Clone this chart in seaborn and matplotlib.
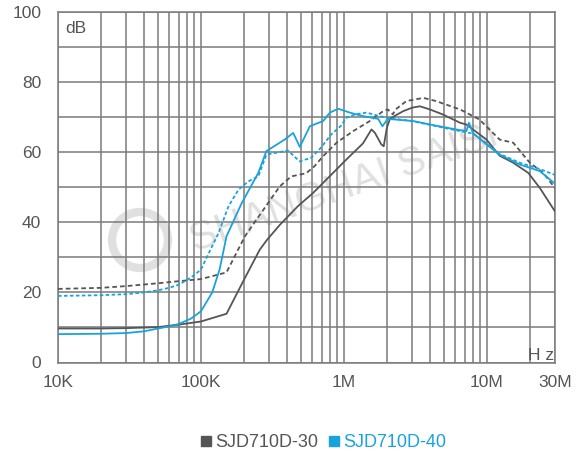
import matplotlib
matplotlib.use("Agg")
import matplotlib.pyplot as plt
import matplotlib.ticker as mticker
from matplotlib.lines import Line2D
from matplotlib.patches import Circle
import numpy as np
import pandas as pd
import seaborn as sns

# ---------------- data ----------------
series_names = ["SJD710D-30", "SJD710D-40"]
x_tick_values = [1e4, 1e5, 1e6, 1e7, 3e7]
x_tick_labels = ["10K", "100K", "1M", "10M", "30M"]
y_tick_values = [0, 20, 40, 60, 80, 100]

# SJD710D-30, solid
g_solid_f = [1e4, 2e4, 3e4, 5e4, 7e4, 1e5, 1.51e5, 2.0e5, 2.58e5, 2.9e5, 3.57e5,
             4.77e5, 6.1e5, 1.04e6, 1.36e6, 1.56e6, 1.65e6, 1.83e6, 1.9e6, 2.0e6,
             2.1e6, 2.3e6, 2.6e6, 3.0e6, 3.4e6, 4.0e6, 4.9e6, 6.5e6, 7.2e6, 9.95e6,
             1.23e7, 1.53e7, 1.95e7, 2.35e7, 3.0e7]
g_solid_db = [9.7, 9.7, 9.8, 10.1, 10.8, 11.7, 13.9, 23.6, 32.2, 35.0, 39.3,
              44.6, 48.4, 57.9, 62.5, 66.5, 65.5, 62.2, 61.7, 67.0,
              69.5, 70.5, 71.7, 72.7, 73.1, 72.2, 70.8, 68.4, 67.9, 63.6,
              59.0, 57.0, 54.1, 49.8, 43.1]

# SJD710D-30, dashed
g_dash_f = [1e4, 2e4, 3e4, 5e4, 7e4, 1e5, 1.51e5, 2.03e5, 2.95e5, 3.57e5, 4.29e5,
            5.45e5, 6.23e5, 7.17e5, 8.89e5, 1.16e6, 1.52e6, 1.88e6, 2.03e6, 2.2e6,
            2.3e6, 2.74e6, 3.6e6, 4.4e6, 6.5e6, 8.9e6, 1.23e7, 1.53e7, 2.0e7,
            2.48e7, 3.0e7]
g_dash_db = [21.0, 21.3, 21.8, 22.6, 23.2, 23.8, 25.7, 36.0, 45.5, 50.3, 53.1,
             54.0, 56.0, 58.9, 62.7, 66.0, 68.9, 71.7, 72.2, 70.8,
             72.2, 74.6, 75.5, 74.6, 72.2, 69.3, 63.6, 62.7, 57.0,
             54.1, 49.8]

# SJD710D-40, solid
b_solid_f = [1e4, 2e4, 3e4, 4e4, 5e4, 6e4, 7e4, 8.5e4, 1e5, 1.2e5, 1.35e5, 1.51e5,
             1.93e5, 2.52e5, 2.87e5, 3.85e5, 4.42e5, 4.92e5, 5.78e5, 7.17e5, 7.98e5,
             9.13e5, 1.1e6, 1.36e6, 1.74e6, 1.86e6, 2.03e6, 3.05e6, 4.0e6, 6.1e6,
             7.2e6, 7.5e6, 8.0e6, 9.95e6, 1.23e7, 1.7e7, 2.35e7, 3.0e7]
b_solid_db = [8.1, 8.2, 8.4, 8.9, 9.7, 10.3, 11.0, 12.5, 14.6, 20.0, 26.5, 36.0,
              45.5, 54.1, 60.3, 63.6, 65.5, 61.5, 67.4, 68.9, 71.3,
              72.4, 71.3, 70.3, 69.5, 67.4, 69.5, 68.9, 67.9, 66.5,
              66.0, 68.4, 65.5, 62.2, 59.3, 56.5, 54.6, 51.0]

# SJD710D-40, dashed
b_dash_f = [1e4, 2e4, 3e4, 4e4, 5e4, 6e4, 7e4, 8.5e4, 1e5, 1.16e5, 1.33e5, 1.56e5,
            1.83e5, 2.15e5, 2.52e5, 2.87e5, 4.06e5, 4.9e5, 5.9e5, 6.92e5, 8.12e5,
            9.53e5, 1.04e6, 1.2e6, 1.44e6, 1.7e6, 2.0e6, 3.0e6, 4.0e6, 6.0e6, 8.0e6,
            1.0e7, 1.23e7, 1.7e7, 2.35e7, 3.0e7]
b_dash_db = [19.0, 19.2, 19.5, 20.0, 20.6, 21.3, 22.2, 24.2, 26.5, 32.0, 37.0, 44.6,
             49.3, 51.7, 53.1, 59.3, 60.5, 57.4, 58.4, 61.3, 65.0,
             67.5, 69.8, 70.8, 71.3, 70.5, 69.8, 68.9, 67.8, 66.3, 65.3,
             62.5, 59.5, 57.0, 55.2, 53.5]

# ---------------- style ----------------
GRAY = "#555555"
BLUE = "#19a3dc"
GRID = "#7b7b7b"
TXT = "#555555"

sns.set_theme(style="white")
plt.rcParams["font.family"] = ["Liberation Sans", "DejaVu Sans"]

fig = plt.figure(figsize=(5.83, 4.59), dpi=100)
ax = fig.add_axes([58 / 583, 1 - 362.5 / 459, (555 - 58) / 583, (362.5 - 12) / 459])

# watermark
ax.text(195, 459 - 252, "SHANGHAI SAISI", transform=None, rotation=19.5,
        fontsize=29, color="#e0e0e0", ha="left", va="baseline", zorder=0,
        rotation_mode="anchor")
wm = Circle((140, 459 - 240), 28, transform=None, fill=False, edgecolor="#e0e0e0",
            linewidth=6, zorder=0)
ax.add_artist(wm)

# data lines
sns.lineplot(x=g_solid_f, y=g_solid_db, ax=ax, color=GRAY, linewidth=1.3, zorder=3)
sns.lineplot(x=g_dash_f, y=g_dash_db, ax=ax, color=GRAY, linewidth=1.3,
             zorder=3).lines[-1].set_dashes([2.6, 1.7])
sns.lineplot(x=b_solid_f, y=b_solid_db, ax=ax, color=BLUE, linewidth=1.3, zorder=4)
sns.lineplot(x=b_dash_f, y=b_dash_db, ax=ax, color=BLUE, linewidth=1.3,
             zorder=4).lines[-1].set_dashes([2.0, 1.3])

ax.set_xscale("log")
ax.set_xlim(1e4, 3e7)
ax.set_ylim(0, 100)

ax.xaxis.set_major_locator(mticker.FixedLocator(x_tick_values))
ax.xaxis.set_major_formatter(mticker.FixedFormatter(x_tick_labels))
minor_x = [m * d for d in [1e4, 1e5, 1e6, 1e7] for m in range(2, 10) if m * d <= 3e7]
ax.xaxis.set_minor_locator(mticker.FixedLocator(minor_x))
ax.xaxis.set_minor_formatter(mticker.NullFormatter())
ax.yaxis.set_major_locator(mticker.FixedLocator(y_tick_values))
ax.yaxis.set_minor_locator(mticker.FixedLocator([10, 30, 50, 70, 90]))

ax.grid(True, which="both", axis="both", color=GRID, linewidth=1.1, zorder=1)
ax.set_axisbelow(True)
for sp in ax.spines.values():
    sp.set_color(GRID)
    sp.set_linewidth(1.1)
    sp.set_visible(True)

ax.tick_params(axis="both", which="both", length=0, labelsize=12.5, labelcolor=TXT)
ax.tick_params(axis="y", pad=12)
ax.tick_params(axis="x", pad=9)
ax.set_xlabel("")
ax.set_ylabel("")

ax.text(65, 459 - 28.5, "dB", transform=None, fontsize=12.5, color=TXT,
        ha="left", va="center")
ax.text(554, 459 - 360, "H z", transform=None, fontsize=12.5, color=TXT,
        ha="right", va="baseline")

handles = [Line2D([], [], marker="s", linestyle="None", color=GRAY, markersize=7),
           Line2D([], [], marker="s", linestyle="None", color=BLUE, markersize=7)]
fig.legend(handles, series_names, loc="center", bbox_to_anchor=(0.552, 0.035),
           ncol=2, frameon=False, handletextpad=0.0, columnspacing=0.4,
           handlelength=1.0, fontsize=13, labelcolor=[GRAY, BLUE])

fig.savefig("out.png", dpi=100)
